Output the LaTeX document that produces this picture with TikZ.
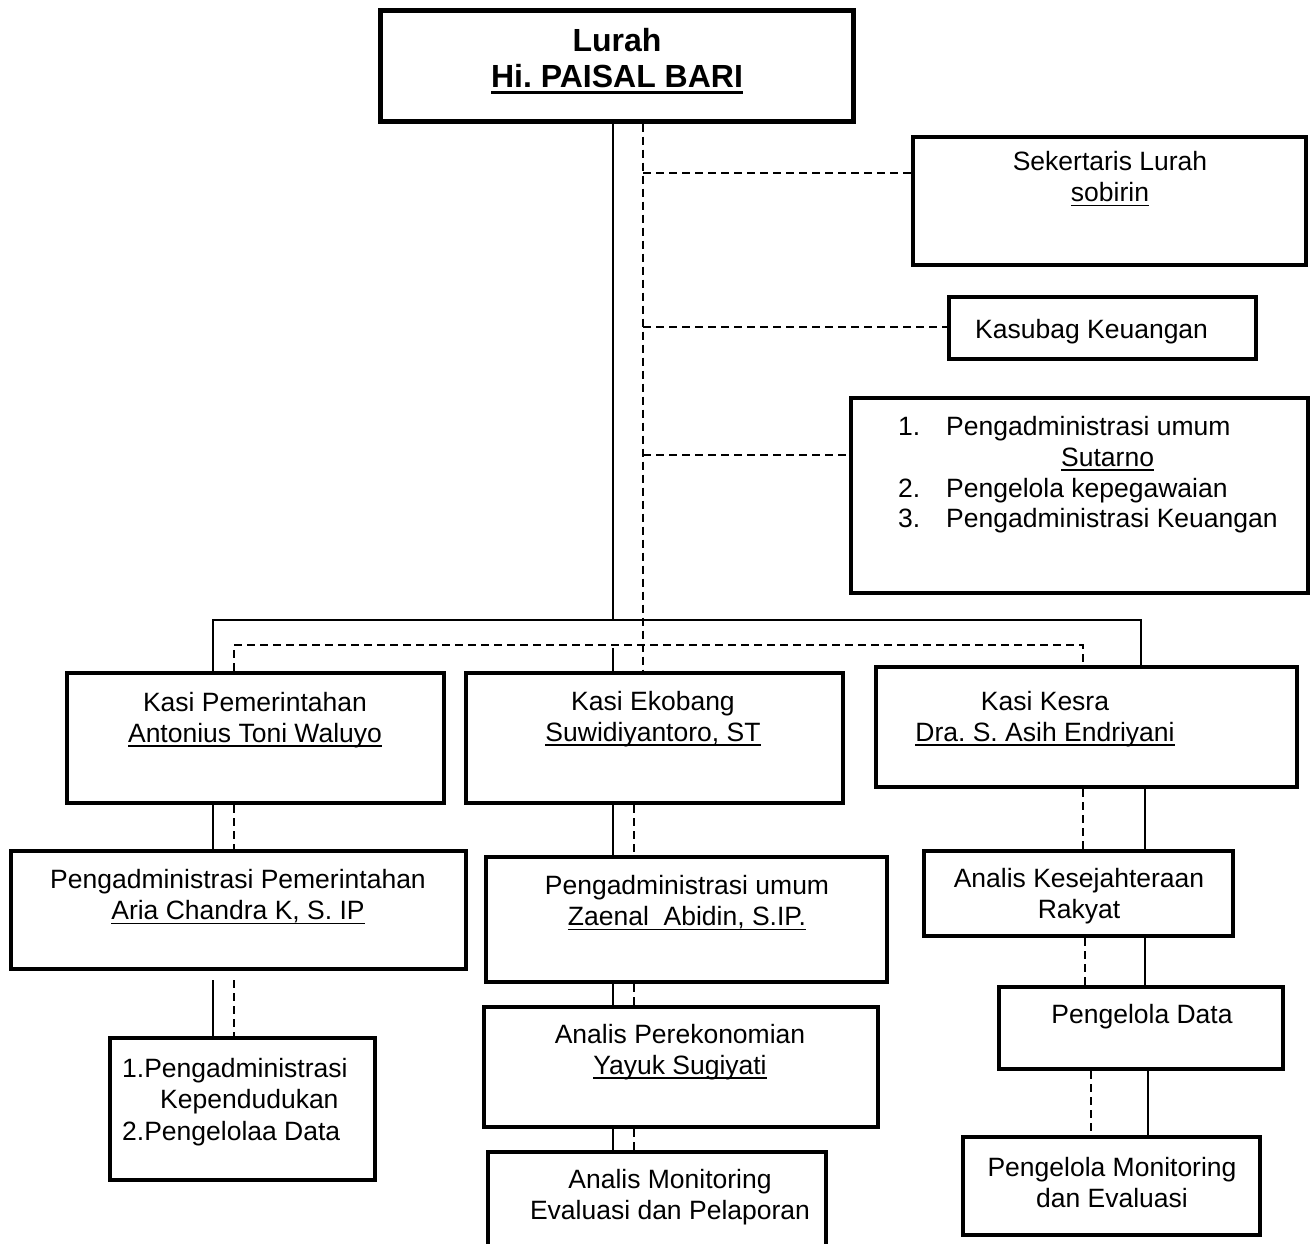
\documentclass[tikz,border=0pt]{standalone}
\usepackage{fontspec}
\setmainfont{Liberation Sans}
\frenchspacing
\newsavebox\ulbox
\newcommand\ulx[1]{\sbox\ulbox{#1}\rlap{\rule[-4.5pt]{\wd\ulbox}{1.8pt}}\usebox\ulbox}
\newcommand\ulb[1]{\sbox\ulbox{#1}\rlap{\rule[-6pt]{\wd\ulbox}{3pt}}\usebox\ulbox}
\begin{document}
\begin{tikzpicture}[x=1pt,y=-1pt,
  box/.style={draw, line width=4.5pt, inner sep=0pt, fill=none},
  txt/.style={align=center, inner sep=0pt, font=\fontsize{26.5}{31}\selectfont},
  conn/.style={line width=1.5pt},
  dconn/.style={line width=1.5pt, dash pattern=on 8pt off 5pt}]
\useasboundingbox (0,0) rectangle (1314,1243);
% boxes
\node[box, line width=5pt, minimum width=473pt, minimum height=111pt] (lurah) at (616.5,65.5) {};
\node[box, minimum width=393pt, minimum height=128pt] (sek) at (1109.5,201) {};
\node[box, minimum width=307pt, minimum height=62pt] (kasubag) at (1102.5,328) {};
\node[box, minimum width=457pt, minimum height=195pt] (list) at (1079.5,495.5) {};
\node[box, minimum width=377pt, minimum height=130pt] (kpem) at (255.5,738) {};
\node[box, minimum width=377pt, minimum height=130pt] (keko) at (654.5,738) {};
\node[box, minimum width=421pt, minimum height=120pt] (kkes) at (1086.5,727) {};
\node[box, minimum width=455pt, minimum height=118pt] (ppem) at (238.5,910) {};
\node[box, minimum width=265pt, minimum height=142pt] (kpd) at (242.5,1109) {};
\node[box, minimum width=401pt, minimum height=125pt] (pumum) at (686.5,919.5) {};
\node[box, minimum width=394pt, minimum height=120pt] (aper) at (681,1067) {};
\node[box, minimum width=338pt, minimum height=110pt] (amon) at (657,1207) {};
\node[box, minimum width=309pt, minimum height=85pt] (akes) at (1078.5,893.5) {};
\node[box, minimum width=284pt, minimum height=82pt] (pdata) at (1141,1028) {};
\node[box, minimum width=297pt, minimum height=98pt] (pmon) at (1111.5,1186) {};
% texts
\node[txt, font=\fontsize{32}{36}\selectfont\bfseries] (tlurah) at (617,61) {Lurah\\\ulb{Hi. PAISAL BARI}};
\node[txt] (tsek) at (1110,179) {Sekertaris Lurah\\\ulx{sobirin}};
\node[txt, anchor=base west] (tkas) at (975,338) {Kasubag Keuangan};
\node[txt, anchor=base west] (tl1n) at (898,435) {1.};
\node[txt, anchor=base west] (tl1) at (946,435) {Pengadministrasi umum};
\node[txt, anchor=base west] (tl1s) at (1061,466) {\ulx{Sutarno}};
\node[txt, anchor=base west] (tl2n) at (898,497) {2.};
\node[txt, anchor=base west] (tl2) at (946,497) {Pengelola kepegawaian};
\node[txt, anchor=base west] (tl3n) at (898,527) {3.};
\node[txt, anchor=base west] (tl3) at (946,527) {Pengadministrasi Keuangan};
\node[txt] (tkpem) at (255,720) {Kasi Pemerintahan\\\ulx{Antonius Toni Waluyo}};
\node[txt] (tkeko) at (653,719) {Kasi Ekobang\\\ulx{Suwidiyantoro, ST}};
\node[txt] (tkkes) at (1045,719) {Kasi Kesra\\\ulx{Dra. S. Asih Endriyani}};
\node[txt] (tppem) at (238,897) {Pengadministrasi Pemerintahan\\\ulx{Aria Chandra K, S. IP}};
\node[txt, anchor=base west] (tkpd1) at (122,1077) {1.Pengadministrasi};
\node[txt, anchor=base west] (tkpd2) at (160,1108) {Kependudukan};
\node[txt, anchor=base west] (tkpd3) at (122,1140) {2.Pengelolaa Data};
\node[txt] (tpumum) at (687,903) {Pengadministrasi umum\\\ulx{Zaenal\ \ Abidin, S.IP.}};
\node[txt] (taper) at (680,1052) {Analis Perekonomian\\\ulx{Yayuk Sugiyati}};
\node[txt] (tamon) at (670,1197) {Analis Monitoring\\Evaluasi dan Pelaporan};
\node[txt] (takes) at (1079,896) {Analis Kesejahteraan\\Rakyat};
\node[txt] (tpdata) at (1142,1017) {Pengelola Data};
\node[txt] (tpmon) at (1112,1183) {Pengelola Monitoring\\dan Evaluasi};
% solid connectors from Lurah
\coordinate (hs) at (613,620);
\draw[conn] (613,0 |- lurah.south) -- (hs);
\draw[conn] (213,0 |- kpem.north) -- (213,620) -- (1141,620) -- (1141,0 |- kkes.north);
\draw[conn] (613,648) -- (613,0 |- keko.north);
% dashed connectors from Lurah
\draw[dconn] (643,0 |- lurah.south) -- (643,0 |- keko.north);
\draw[dconn] (643,173) -- (sek.west |- 0,173);
\draw[dconn] (643,327) -- (kasubag.west |- 0,327);
\draw[dconn] (643,455) -- (list.west |- 0,455);
\draw[dconn] (234,0 |- kpem.north) -- (234,645) -- (1083,645) -- (1083,0 |- kkes.north);
% Pemerintahan column
\draw[conn] (213,0 |- kpem.south) -- (213,0 |- ppem.north);
\draw[dconn] (234,0 |- kpem.south) -- (234,0 |- ppem.north);
\draw[conn] (213,980) -- (213,0 |- kpd.north);
\draw[dconn] (234,980) -- (234,0 |- kpd.north);
% Ekobang column
\draw[conn] (613,0 |- keko.south) -- (613,0 |- pumum.north);
\draw[dconn] (634,0 |- keko.south) -- (634,0 |- pumum.north);
\draw[conn] (613,0 |- pumum.south) -- (613,0 |- aper.north);
\draw[dconn] (634,0 |- pumum.south) -- (634,0 |- aper.north);
\draw[conn] (613,0 |- aper.south) -- (613,0 |- amon.north);
\draw[dconn] (634,0 |- aper.south) -- (634,0 |- amon.north);
% Kesra column
\draw[dconn] (1083,0 |- kkes.south) -- (1083,0 |- akes.north);
\draw[conn] (1145,0 |- kkes.south) -- (1145,0 |- akes.north);
\draw[dconn] (1085,0 |- akes.south) -- (1085,0 |- pdata.north);
\draw[conn] (1145,0 |- akes.south) -- (1145,0 |- pdata.north);
\draw[dconn] (1091,0 |- pdata.south) -- (1091,0 |- pmon.north);
\draw[conn] (1148,0 |- pdata.south) -- (1148,0 |- pmon.north);
\end{tikzpicture}
\end{document}
